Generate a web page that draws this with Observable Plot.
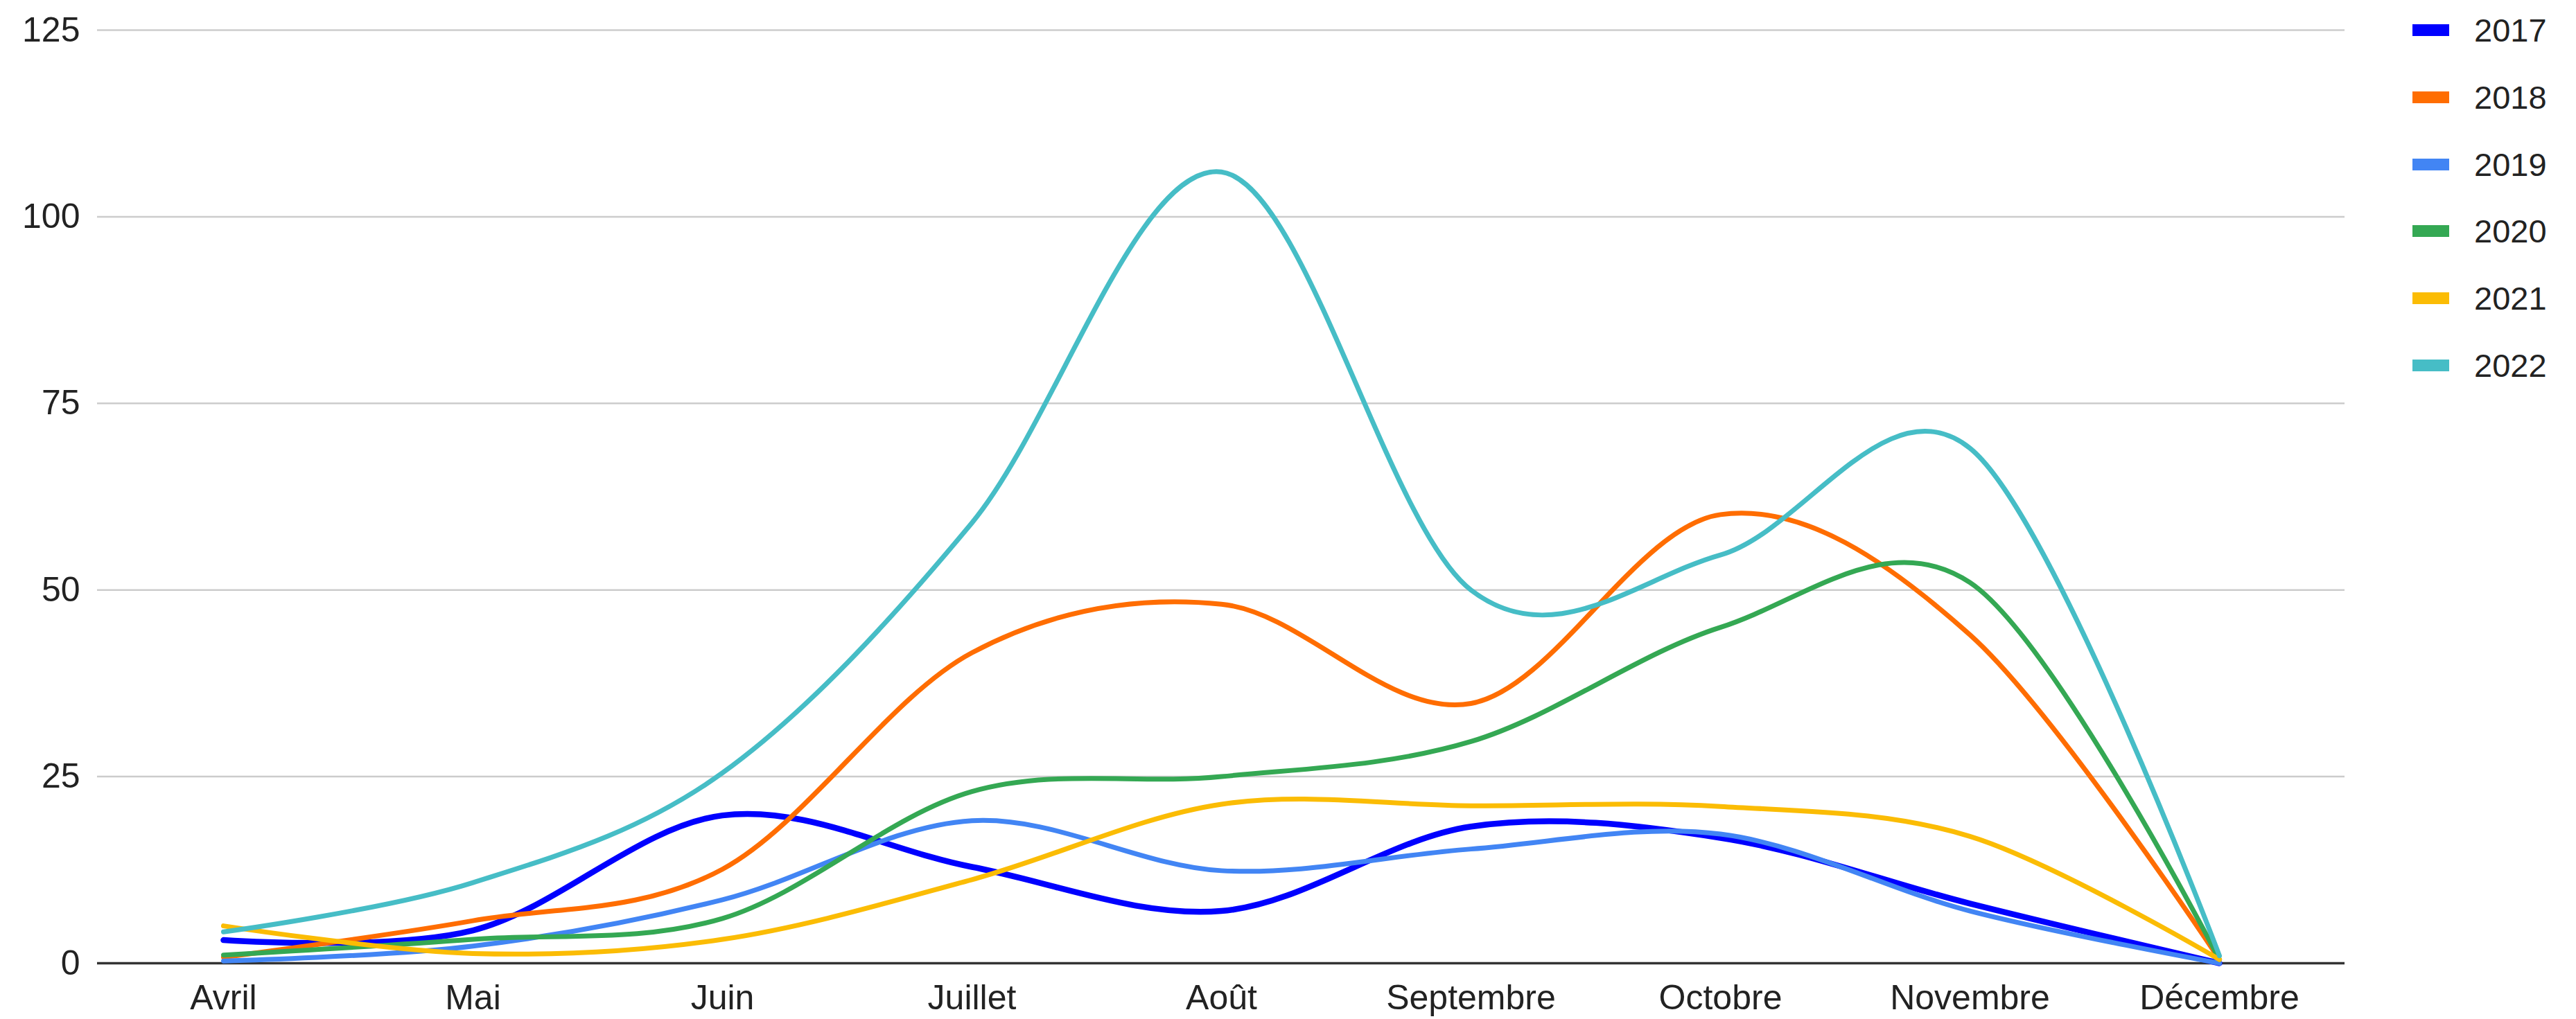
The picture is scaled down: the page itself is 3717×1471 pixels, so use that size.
<!DOCTYPE html>
<html>
<head>
<meta charset="utf-8">
<script src="https://cdn.jsdelivr.net/npm/d3@7"></script>
<script src="https://cdn.jsdelivr.net/npm/@observablehq/plot@0.6"></script>
<style>
  html, body { margin: 0; padding: 0; background: #fff; }
  #wrap { position: relative; width: 3717px; height: 1471px; font-family: "Liberation Sans", Arial, sans-serif; }
  .leg { position: absolute; left: 3481px; height: 60px; display: flex; align-items: center; font-size: 47px; color: #222; }
  .sw { width: 53px; height: 17px; margin-right: 36px; }
</style>
</head>
<body>
<div id="wrap"></div>
<script>
const months = ["Avril", "Mai", "Juin", "Juillet", "Août", "Septembre", "Octobre", "Novembre", "Décembre"];
const years = ["2017", "2018", "2019", "2020", "2021", "2022"];
const colors = ["#0000ff", "#ff6d01", "#4285f4", "#34a853", "#fbbc04", "#46bdc6"];
const yTicks = [0, 25, 50, 75, 100, 125];

const v2017 = [3.1, 4.4, 19.8, 12.9, 7.0, 18.3, 16.8, 8.0, 0];
const v2018 = [0.8, 5.7, 12.6, 41.6, 48.1, 34.8, 60.1, 44.0, 0.5];
const v2019 = [0.3, 2.3, 8.5, 19.1, 12.4, 15.3, 17.3, 7.0, 0];
const v2020 = [1.1, 3.2, 6.0, 23.0, 25.0, 29.7, 45.0, 51.0, 0.5];
const v2021 = [5.0, 1.3, 3.2, 11.2, 21.3, 21.1, 21.0, 17.0, 0.5];
const v2022 = [4.2, 10.8, 25.5, 59.0, 106.0, 50.0, 54.7, 69.0, 1.0];
const series = [v2017, v2018, v2019, v2020, v2021, v2022];
const widths = [8.5, 7, 7, 7, 7, 7];

const lineMarks = series.map((vals, i) =>
  Plot.line(months.map((m, j) => ({month: m, value: vals[j]})), {
    x: "month", y: "value", stroke: colors[i], strokeWidth: widths[i],
    curve: d3.curveCardinal.tension(0), strokeLinejoin: "round", strokeLinecap: "round"
  })
);

const chart = Plot.plot({
  width: 3717,
  height: 1471,
  marginLeft: 140,
  marginRight: 334,
  marginTop: 43,
  marginBottom: 81,
  style: {fontFamily: "'Liberation Sans', Arial, sans-serif", fontSize: "50px", color: "#222", background: "white", overflow: "visible"},
  x: {type: "point", domain: months, padding: 0.5, label: null},
  y: {domain: [0, 125], label: null},
  marks: [
    Plot.ruleY(yTicks.filter(d => d > 0), {stroke: "#cccccc", strokeWidth: 2.5}),
    Plot.axisY({ticks: yTicks, tickSize: 0, tickPadding: 25, label: null}),
    Plot.axisX({tickSize: 0, tickPadding: 31, label: null}),
    Plot.ruleY([0], {stroke: "#333333", strokeWidth: 3.5}),
    ...lineMarks
  ]
});

const wrap = document.getElementById("wrap");
wrap.appendChild(chart);
const centers = [43, 140, 237, 333, 430, 527];
years.forEach((y, i) => {
  const d = document.createElement("div");
  d.className = "leg";
  d.style.top = (centers[i] - 30) + "px";
  d.innerHTML = `<div class="sw" style="background:${colors[i]}"></div><span>${y}</span>`;
  wrap.appendChild(d);
});
</script>
</body>
</html>
